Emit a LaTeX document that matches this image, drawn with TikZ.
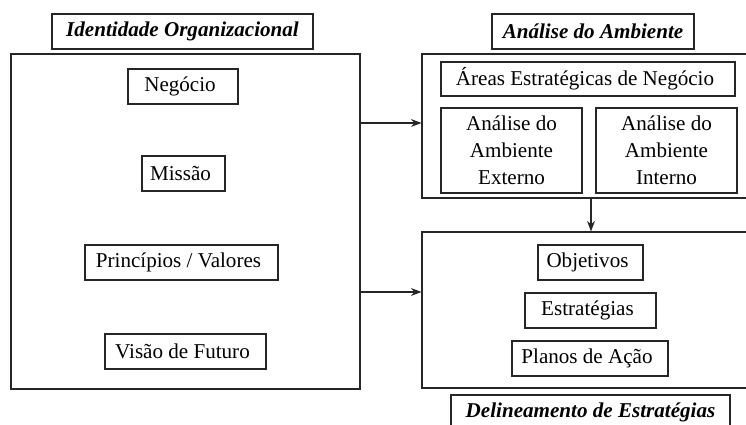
\documentclass[tikz,border=0pt]{standalone}
\usepackage{fontspec}
\setmainfont{Liberation Serif}
\usetikzlibrary{arrows.meta}

\begin{document}
\begin{tikzpicture}[
    font=\fontsize{12}{15.4}\selectfont,
    box/.style={draw=black!85, line width=0.6pt, minimum height=0.7cm, inner sep=0pt, align=center},
    item/.style={box, execute at end node=\hspace{0.12cm}},
    frame/.style={draw=black!85, line width=0.6pt, inner sep=0pt},
    title/.style={box, font=\fontsize{12}{15.4}\selectfont\bfseries\itshape},
    arr/.style={-{Stealth[length=6pt, width=4.5pt]}, line width=0.6pt, black!85}
]
            \clip (0, 0) rectangle (14.92, 8.5);

            \node[title, minimum width=5.22cm] (tident) at (3.65, 7.87) {Identidade Organizacional};
            \node[frame, minimum width=6.98cm, minimum height=6.7cm] (ident) at (3.71, 4.07) {};
            \node[item, minimum width=2.2cm] (neg) at (3.66, 6.77) {Negócio};
            \node[item, minimum width=1.66cm] (miss) at (3.67, 5.03) {Missão};
            \node[item, minimum width=3.86cm] (princ) at (3.63, 3.25) {Princípios / Valores};
            \node[item, minimum width=3.22cm] (visao) at (3.71, 1.47) {Visão de Futuro};

            \node[title, minimum width=4.04cm] (tamb) at (11.86, 7.87) {Análise do Ambiente};
            \node[frame, minimum width=6.76cm, minimum height=2.88cm] (amb) at (11.82, 5.98) {};
            \node[item, minimum width=5.88cm, minimum height=0.68cm] (areas) at (11.76, 6.92) {Áreas Estratégicas de Negócio};
            \node[box, minimum width=2.82cm, minimum height=1.7cm] (ext) at (10.23, 5.49) {Análise do\\Ambiente\\Externo};
            \node[box, minimum width=2.82cm, minimum height=1.7cm] (int) at (13.33, 5.49) {Análise do\\Ambiente\\Interno};

            \node[frame, minimum width=6.76cm, minimum height=3.12cm] (delin) at (11.82, 2.3) {};
            \node[item, minimum width=2.1cm] (obj) at (11.81, 3.25) {Objetivos};
            \node[item, minimum width=2.62cm] (estr) at (11.81, 2.29) {Estratégias};
            \node[item, minimum width=3.12cm] (planos) at (11.8, 1.33) {Planos de Ação};
            \node[title, minimum width=5.58cm] (tdelin) at (11.81, 0.25) {Delineamento de Estratégias};

            \coordinate (a1) at (7.2, 6.04);
            \coordinate (a2) at (7.2, 2.66);
            \draw[arr] (a1) -- (a1 -| amb.west);
            \draw[arr] (a2) -- (a2 -| delin.west);
            \draw[arr] (amb.south) -- (delin.north);
\end{tikzpicture}
\end{document}
